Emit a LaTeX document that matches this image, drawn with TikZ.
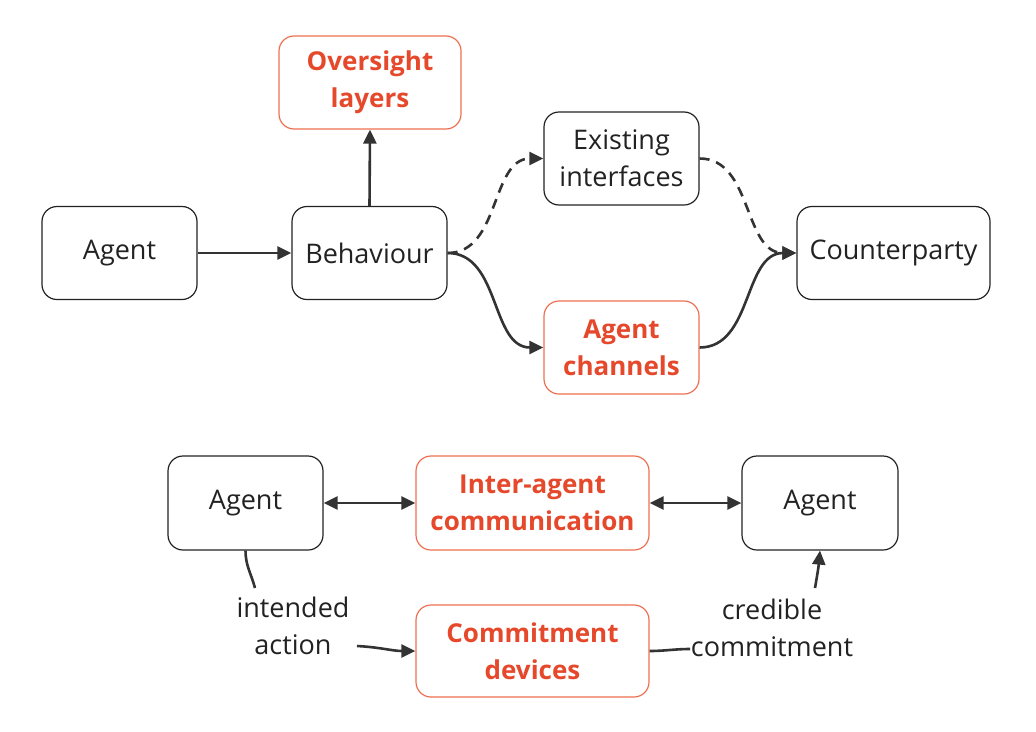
\documentclass[tikz,border=0pt]{standalone}
\usepackage{fontspec}
\setmainfont{Open Sans}
\usetikzlibrary{arrows.meta}
\definecolor{ink}{HTML}{222222}
\definecolor{wire}{HTML}{333333}
\definecolor{hot}{HTML}{E5482B}
\definecolor{hotline}{HTML}{EE6E52}
\tikzset{
  box/.style={draw=ink, line width=1.2pt, rounded corners=15pt, minimum height=93pt,
    align=center, text=ink, font=\fontsize{27}{37}\selectfont, inner sep=0pt},
  hotbox/.style={box, draw=hotline, text=hot, font=\fontsize{26}{37}\selectfont\bfseries},
  lbl/.style={align=center, text=ink, font=\fontsize{27}{37}\selectfont, inner sep=0pt},
  wirearrow/.style={draw=wire, line width=2.6pt, -{Triangle[length=14pt,width=13pt]}},
  wireplain/.style={draw=wire, line width=2.6pt},
  wiredash/.style={wirearrow, dash pattern=on 10pt off 7pt},
  bothways/.style={draw=wire, line width=2.6pt, {Triangle[length=14pt,width=13pt]}-{Triangle[length=14pt,width=13pt]}}
}
\begin{document}
\begin{tikzpicture}[x=1pt,y=1pt]
\useasboundingbox (0,0) rectangle (1036,-731);
% top part
\node[box, minimum width=155pt] (agent) at (119.5,-253) {Agent};
\node[box, minimum width=155pt] (beh) at (369.5,-253) {Behaviour};
\node[hotbox, minimum width=182pt] (over) at (370,-82.5) {Oversight\\layers};
\node[box, minimum width=155pt] (exist) at (621.5,-158.5) {Existing\\interfaces};
\node[hotbox, minimum width=155pt] (chan) at (621.5,-347.5) {Agent\\channels};
\node[box, minimum width=193pt] (cp) at (893.5,-253) {Counterparty};

\draw[wirearrow] (agent.east) -- (beh.west);
\draw[wirearrow] (beh.north) -- (over.south);
\draw[wiredash] (beh.east) to[out=0,in=180] (exist.west);
\draw[wiredash] (exist.east) to[out=0,in=180] (cp.west);
\draw[wirearrow] (beh.east) to[out=0,in=180] (chan.west);
\draw[wirearrow] (chan.east) to[out=0,in=180] (cp.west);

% bottom part
\node[box, minimum width=155pt, minimum height=94pt] (agL) at (245.5,-503) {Agent};
\node[hotbox, minimum width=233pt, minimum height=94pt] (inter) at (532.5,-503) {Inter-agent\\communication};
\node[box, minimum width=156pt, minimum height=94pt] (agR) at (820,-503) {Agent};
\node[hotbox, minimum width=233pt, minimum height=92pt] (commit) at (532.5,-651) {Commitment\\devices};

\node[lbl] (intended) at (293,-626) {intended\\action};
\node[lbl] (credible) at (772,-628) {credible\\commitment};

\coordinate (iaTop) at (255,-588);
\coordinate (iaRight) at (357,-646);
\coordinate (ccLeft) at (690,-649);
\coordinate (ccTop) at (815,-588);

\draw[bothways] (agL.east) -- (inter.west);
\draw[bothways] (inter.east) -- (agR.west);

\draw[wireplain] (agL.south) to[out=-90,in=105] (iaTop);
\draw[wirearrow] (iaRight) to[out=-3,in=180] (commit.west);
\draw[wireplain] (commit.east) to[out=0,in=180] (ccLeft);
\draw[wirearrow] (ccTop) to[out=80,in=-95] (agR.south);
\end{tikzpicture}
\end{document}
